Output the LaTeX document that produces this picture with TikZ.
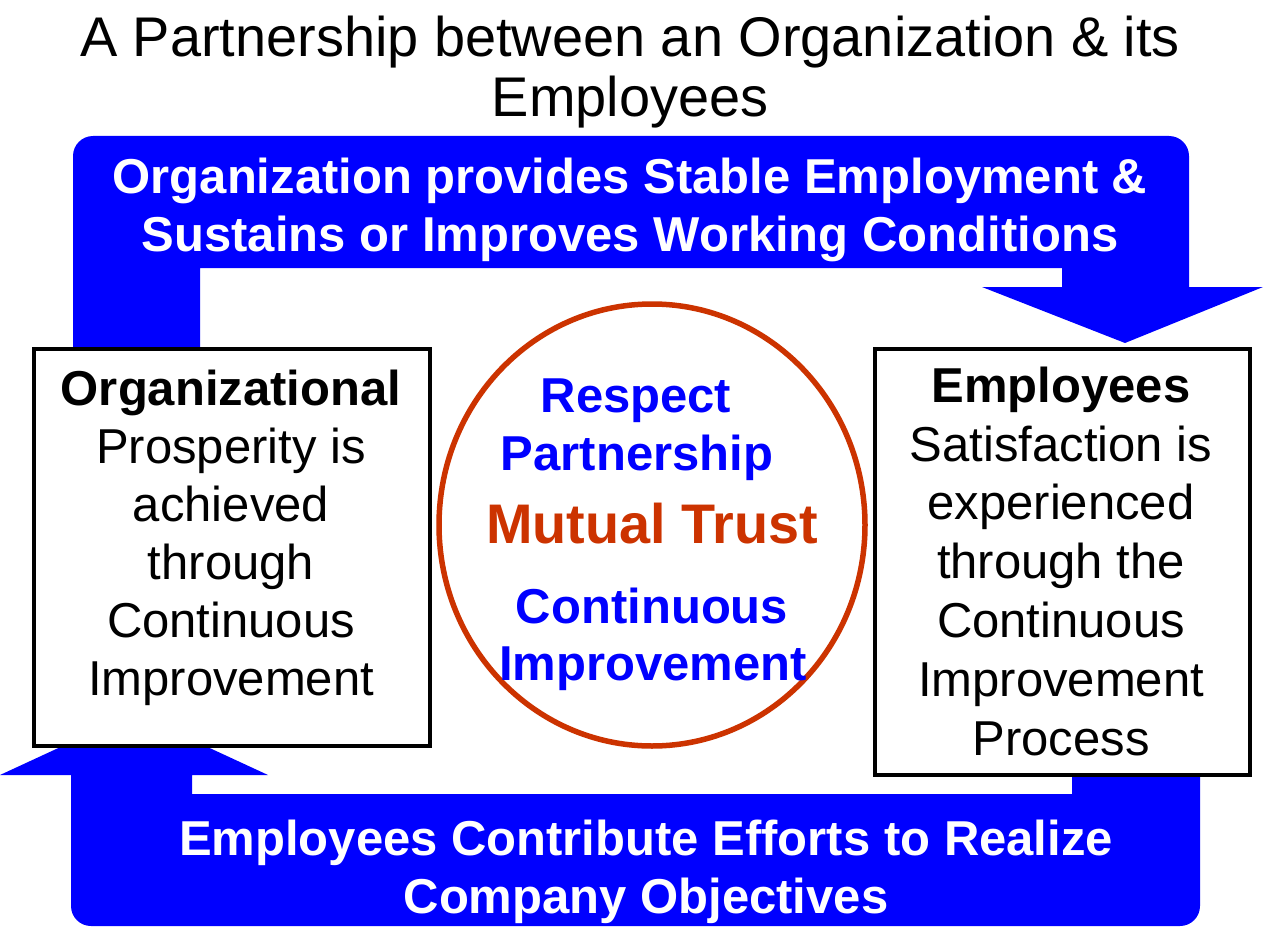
\documentclass[tikz,border=0pt]{standalone}
\usepackage{fontspec}
\setmainfont{Liberation Sans}
\usetikzlibrary{shapes.geometric}
\definecolor{pblue}{RGB}{0,0,255}
\definecolor{pred}{RGB}{204,51,0}
\begin{document}
\begin{tikzpicture}[x=1pt,y=-1pt,
  titletxt/.style={anchor=base, inner sep=0pt, font=\fontsize{55.9}{60}\selectfont},
  bandtxt/.style={anchor=base, inner sep=0pt, text=white, font=\fontsize{49}{58}\selectfont\bfseries},
  boxtxt/.style={anchor=base, inner sep=0pt, font=\fontsize{49}{58}\selectfont},
  boxhead/.style={boxtxt, font=\fontsize{49}{58}\selectfont\bfseries},
  circtxt/.style={anchor=base, inner sep=0pt, text=pblue, font=\fontsize{49}{58}\selectfont\bfseries},
  trusttxt/.style={anchor=base, inner sep=0pt, text=pred, font=\fontsize{55.8}{60}\selectfont\bfseries},
  framebox/.style={draw=black, line width=4pt, fill=white, inner sep=0pt, rectangle},
  bandshape/.style={fill=pblue}]
\useasboundingbox (0,0) rectangle (1263,947);
\fill[white] (0,0) rectangle (1263,947);

% title
\node[titletxt] (title1) at (630,57) {A Partnership between an Organization \& its};
\node[titletxt] (title2) at (630,117) {Employees};

% top band arrow
\fill[bandshape] (73,380) -- (73,156) arc[start angle=180, end angle=270, radius=20]
  -- (1169,136) arc[start angle=270, end angle=360, radius=20]
  -- (1189,287) -- (1263,287) -- (1125,343) -- (982,287) -- (1062,287)
  -- (1062,268) -- (200,268) -- (200,380) -- cycle;

% bottom band arrow
\fill[bandshape] (1072,794) -- (192,794) -- (192,775) -- (268,775) -- (134,713)
  -- (0,775) -- (71,775) -- (71,906) arc[start angle=180, end angle=90, radius=20]
  -- (1180,926) arc[start angle=90, end angle=0, radius=20]
  -- (1200,740) -- (1072,740) -- cycle;

% boxes
\node[framebox, minimum width=396, minimum height=397] (orgbox) at (232,547.5) {};
\node[framebox, minimum width=375, minimum height=426] (empbox) at (1062.5,562) {};

% circle
\node[draw=pred, line width=5.5pt, ellipse, inner sep=0pt, minimum width=426, minimum height=442] (trust) at (652,525) {};

% band texts
\node[bandtxt] (top1) at (630,193) {Organization provides Stable Employment \&};
\node[bandtxt] (top2) at (630,251) {Sustains or Improves Working Conditions};
\node[bandtxt] (bot1) at (646,855) {Employees Contribute Efforts to Realize};
\node[bandtxt] (bot2) at (646,913) {Company Objectives};

% left box text
\node[boxhead] (o1) at (231,405) {Organizational};
\node[boxtxt] (o2) at (231,463) {Prosperity is};
\node[boxtxt] (o3) at (231,521) {achieved};
\node[boxtxt] (o4) at (231,579) {through};
\node[boxtxt] (o5) at (231,637) {Continuous};
\node[boxtxt] (o6) at (231,695) {Improvement};

% right box text
\node[boxhead] (e1) at (1061,402) {Employees};
\node[boxtxt] (e2) at (1061,461) {Satisfaction is};
\node[boxtxt] (e3) at (1061,519) {experienced};
\node[boxtxt] (e4) at (1061,578) {through the};
\node[boxtxt] (e5) at (1061,637) {Continuous};
\node[boxtxt] (e6) at (1061,696) {Improvement};
\node[boxtxt] (e7) at (1061,755) {Process};

% circle text
\node[circtxt] (c1) at (636,412) {Respect};
\node[circtxt] (c2) at (637,470) {Partnership};
\node[trusttxt] (c3) at (652,543) {Mutual Trust};
\node[circtxt] (c4) at (652,623) {Continuous};
\node[circtxt] (c5) at (653,680) {Improvement};
\end{tikzpicture}
\end{document}
